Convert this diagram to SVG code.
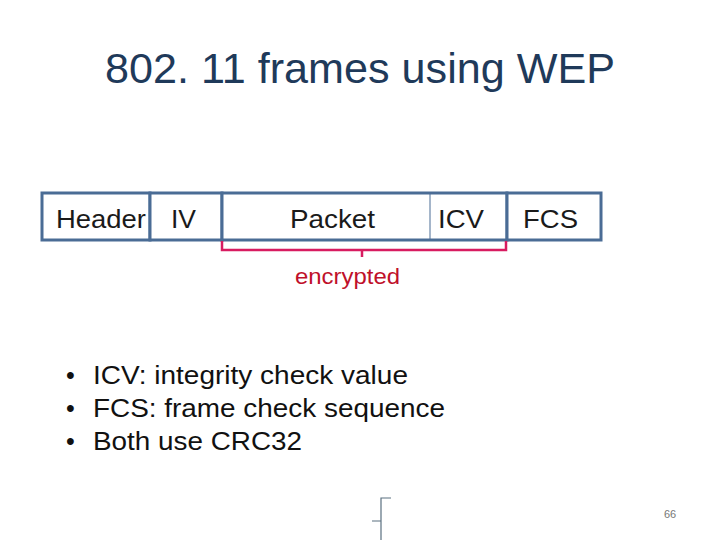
<svg xmlns="http://www.w3.org/2000/svg" width="720" height="540" viewBox="0 0 720 540">
<style>
text{font-family:"Liberation Sans",Arial,sans-serif}
.b{fill:#fff;stroke:#4a6c95;stroke-width:3}
.l{font-size:25px;fill:#1a1a1a}
</style>
<rect width="720" height="540" fill="#fff"/>
<text x="105" y="83" font-size="42" fill="#1f3a5a" textLength="510" lengthAdjust="spacingAndGlyphs">802. 11 frames using WEP</text>
<g id="header"><rect class="b" x="42" y="193" width="108" height="47"/><text class="l" x="56" y="228" textLength="90" lengthAdjust="spacingAndGlyphs">Header</text></g>
<g id="iv"><rect class="b" x="150" y="193" width="72" height="47"/><text class="l" x="171" y="228" textLength="25" lengthAdjust="spacingAndGlyphs">IV</text></g>
<g id="packet"><rect class="b" x="222" y="193" width="285" height="47"/><line x1="430" y1="194" x2="430" y2="239" stroke="#4a6c95" stroke-width="1"/><text class="l" x="290" y="228" textLength="85" lengthAdjust="spacingAndGlyphs">Packet</text><text class="l" x="438" y="228" textLength="46" lengthAdjust="spacingAndGlyphs">ICV</text></g>
<g id="fcs"><rect class="b" x="507" y="193" width="94" height="47"/><text class="l" x="523" y="228" textLength="55" lengthAdjust="spacingAndGlyphs">FCS</text></g>
<g id="connectors"><path d="M222 241V250H506V241M362 250V257" fill="none" stroke="#d81b60" stroke-width="2.5"/></g>
<text x="295" y="284" font-size="22" fill="#c0102a" textLength="105" lengthAdjust="spacingAndGlyphs">encrypted</text>
<g font-size="25" fill="#111">
<text x="66" y="384">•</text><text x="93" y="384" textLength="315" lengthAdjust="spacingAndGlyphs">ICV: integrity check value</text>
<text x="66" y="417">•</text><text x="93" y="417" textLength="352" lengthAdjust="spacingAndGlyphs">FCS: frame check sequence</text>
<text x="66" y="450">•</text><text x="93" y="450" textLength="209" lengthAdjust="spacingAndGlyphs">Both use CRC32</text>
</g>
<path d="M391 498H381V540M372 521H381" fill="none" stroke="#5a7080" stroke-width="1.2"/>
<text x="670" y="518" font-size="11" fill="#777" text-anchor="middle">66</text>
</svg>
